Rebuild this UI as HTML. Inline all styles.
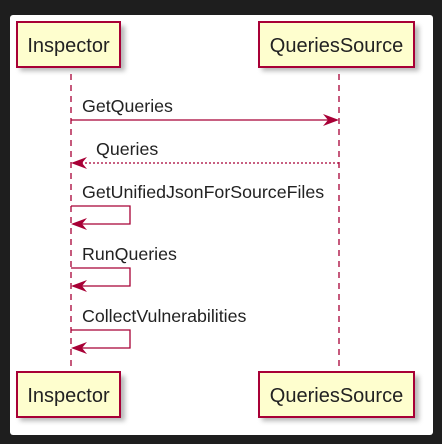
<!DOCTYPE html>
<html><head><style>
html,body{margin:0;padding:0;background:#1e1e1e;width:442px;height:444px;overflow:hidden}
svg{display:block}
text{font-family:"Liberation Sans",Arial,sans-serif;fill:#222}
</style></head><body>
<svg width="442" height="444" viewBox="0 0 442 444">
<defs>
<filter id="sh" x="-20%" y="-20%" width="150%" height="160%"><feGaussianBlur stdDeviation="2.5"/></filter>
</defs>
<rect x="10" y="15" width="423" height="420" rx="3" fill="#fff"/>
<g fill="#888" opacity="0.6" filter="url(#sh)">
<rect x="20" y="26" width="105" height="45"/><rect x="262" y="26" width="157" height="45"/>
<rect x="20" y="376" width="105" height="45"/><rect x="262" y="376" width="157" height="45"/>
</g>
<g stroke="#a80036" stroke-width="1.3" stroke-dasharray="6,5">
<line x1="71" y1="74" x2="71" y2="366"/><line x1="339" y1="74" x2="339" y2="366"/>
</g>
<g fill="#fefece" stroke="#a80036" stroke-width="2">
<rect x="17" y="22" width="103" height="45"/><rect x="259" y="22" width="155" height="45"/>
<rect x="17" y="372" width="103" height="45"/><rect x="259" y="372" width="155" height="45"/>
</g>
<g font-size="20" text-anchor="middle">
<text x="68.5" y="52">Inspector</text><text x="336.5" y="52">QueriesSource</text>
<text x="68.5" y="402">Inspector</text><text x="336.5" y="402">QueriesSource</text>
</g>
<g stroke="#a80036" stroke-width="1.3" fill="none">
<line x1="71" y1="120" x2="337" y2="120"/>
<line x1="73" y1="163" x2="339" y2="163" stroke-dasharray="2,2"/>
<polyline points="71,206 130,206 130,224 73,224"/>
<polyline points="71,268 130,268 130,286 73,286"/>
<polyline points="71,330 130,330 130,348 73,348"/>
</g>
<g fill="#a80036">
<polygon points="339,120 323,114 328,120 323,126"/>
<polygon points="71,163 87,157 82,163 87,169"/>
<polygon points="71,224 87,218 82,224 87,230"/>
<polygon points="71,286 87,280 82,286 87,292"/>
<polygon points="71,348 87,342 82,348 87,354"/>
</g>
<g font-size="17.8">
<text x="82" y="112">GetQueries</text>
<text x="96" y="155">Queries</text>
<text x="82" y="198">GetUnifiedJsonForSourceFiles</text>
<text x="82" y="260">RunQueries</text>
<text x="82" y="322">CollectVulnerabilities</text>
</g>
</svg>
</body></html>
